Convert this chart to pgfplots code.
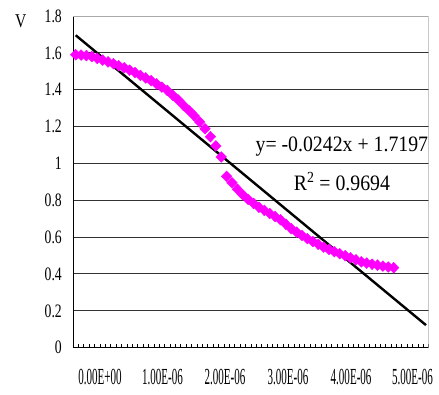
\documentclass[border=0pt]{standalone}
\usepackage{pgfplots}
\pgfplotsset{compat=1.18}
\usepackage{pgfplotstable}
\usepackage{fontspec}
\setmainfont{Liberation Serif}
\definecolor{mag}{RGB}{255,0,255}
\definecolor{gridc}{RGB}{50,50,50}
\definecolor{boxc}{RGB}{170,170,170}
\newcommand{\ylab}[1]{\scalebox{0.72}[1]{\fontsize{19}{19}\selectfont #1}}
\newcommand{\xlab}[1]{\scalebox{0.48}[1]{\fontsize{23}{23}\selectfont #1}}
\pgfplotstableread{
x y
1 1.590
2 1.588
3 1.585
4 1.580
5 1.570
6 1.561
7 1.551
8 1.541
9 1.530
10 1.519
11 1.506
12 1.493
13 1.478
14 1.464
15 1.449
16 1.432
17 1.414
18 1.396
19 1.370
20 1.345
21 1.315
22 1.288
23 1.258
24 1.225
25 1.188
26 1.145
27 1.095
28 1.035
29 0.930
30 0.895
31 0.860
32 0.830
33 0.805
34 0.783
35 0.762
36 0.745
37 0.728
38 0.712
39 0.694
40 0.670
41 0.646
42 0.627
43 0.609
44 0.592
45 0.576
46 0.561
47 0.546
48 0.533
49 0.521
50 0.510
51 0.499
52 0.488
53 0.477
54 0.466
55 0.459
56 0.453
57 0.448
58 0.443
59 0.438
60 0.434
}\datatable
\begin{document}
\begin{tikzpicture}
\path[use as bounding box] (-73pt,-46.3pt) rectangle (366pt,347.7pt);
\begin{axis}[
  at={(0,0)}, anchor=south west,
  scale only axis,
  width=355.7pt, height=331.7pt,
  xmin=0.5, xmax=66.5, ymin=0, ymax=1.8,
  axis lines=left,
  axis line style={-, black, line width=0.9pt},
  xtick={5.5,17.1,28.7,40.4,52.1,63.5},
  xticklabels={\xlab{0.00E+00},\xlab{1.00E-06},\xlab{2.00E-06},\xlab{3.00E-06},\xlab{4.00E-06},\xlab{5.00E-06}},
  major x tick style={draw=none},
  minor xtick={0.5,1.5,...,66.5},
  minor x tick style={black, line width=0.6pt},
  minor tick length=3.5pt,
  tick align=inside,
  xticklabel style={anchor=center, yshift=-29pt, inner sep=0pt},
  ytick={0,0.2,0.4,0.6,0.8,1,1.2,1.4,1.6},
  yticklabels={\ylab{0},\ylab{0.2},\ylab{0.4},\ylab{0.6},\ylab{0.8},\ylab{1},\ylab{1.2},\ylab{1.4},\ylab{1.6}},
  extra y ticks={1.8},
  extra y tick labels={\ylab{1.8}},
  extra y tick style={grid=none},
  y tick style={draw=none},
  yticklabel style={anchor=east, xshift=-11pt, inner sep=0pt},
  ymajorgrids,
  major grid style={gridc, line width=1pt},
  clip=true,
]
\addplot[only marks, mark=diamond*, mark size=5.4pt, color=mag, mark options={fill=mag, draw=mag, xscale=1.3}] table[x=x,y=y] {\datatable};
\addplot[black, line width=2.4pt] coordinates {(1,1.6955) (66,0.1225)};
\draw[boxc, line width=0.9pt] (rel axis cs:0,1) -- (rel axis cs:1,1) -- (rel axis cs:1,0);
\node[anchor=base east, inner sep=0pt] at (rel axis cs:0.999,0.592) {\scalebox{0.9}[1]{\fontsize{22}{22}\selectfont y= -0.0242x + 1.7197}};
\node[anchor=base, inner sep=0pt] at (axis cs:50.4,0.855) {\scalebox{0.9}[1]{\fontsize{22}{22}\selectfont R$^{\mathrm{2}}$ = 0.9694}};
\end{axis}
\node[inner sep=0pt] at (-52.3pt,326pt) {\scalebox{0.8}[1]{\fontsize{19.5}{19.5}\selectfont V}};
\end{tikzpicture}
\end{document}
